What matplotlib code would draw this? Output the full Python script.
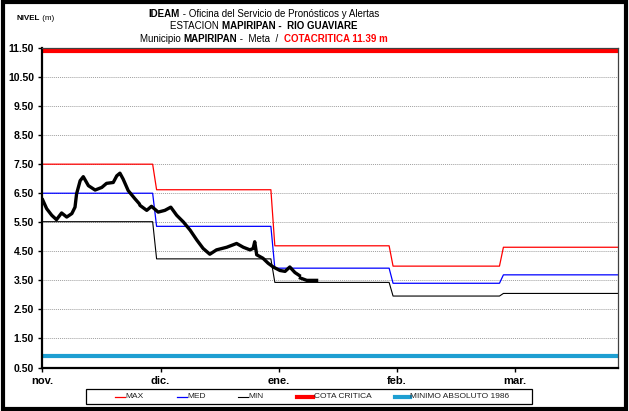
import numpy as np
import matplotlib
matplotlib.use("Agg")
import matplotlib.pyplot as plt
from matplotlib.patches import Rectangle
from matplotlib.lines import Line2D

plt.rcParams['font.family'] = ['Liberation Sans Narrow', 'Liberation Sans', 'DejaVu Sans']

# monthly reference levels (nov, dic, ene, feb, mar)
month_len = [29, 30, 30, 28, 30]
max_levels = [7.50, 6.62, 4.69, 3.99, 4.64]
med_levels = [6.50, 5.36, 3.92, 3.40, 3.69]
min_levels = [5.52, 4.24, 3.43, 2.96, 3.05]
cota_critica = 11.39
minimo_abs = 0.90

month_ticks = [0, 30, 60, 90, 120]
month_labels = ["nov.", "dic.", "ene.", "feb.", "mar."]

# observed level (day index, metres)
obs_day = [0.1, 1.1, 2.4, 3.6, 4.9, 6.2, 7.5, 8.3, 8.7, 9.6, 10.4, 11.7, 13.4, 15.1,
           16.3, 18.0, 18.9, 19.7, 20.5, 21.8, 23.5, 24.6, 24.8, 26.5, 27.7, 29.4,
           31.1, 32.6, 34.1, 35.8, 37.5, 39.2, 40.8, 42.5, 44.2, 46.8, 49.3, 51.0,
           52.7, 53.5, 53.9, 54.4, 56.0, 57.3, 58.6, 60.3, 61.6, 62.8, 64.1, 65.2,
           65.3, 65.5, 67.1, 69.6]
obs_level = [6.27, 5.97, 5.74, 5.59, 5.82, 5.68, 5.80, 6.02, 6.48, 6.93, 7.07, 6.76,
             6.61, 6.70, 6.84, 6.87, 7.10, 7.19, 6.99, 6.59, 6.31, 6.14, 6.08, 5.91,
             6.05, 5.85, 5.91, 6.02, 5.74, 5.51, 5.23, 4.89, 4.60, 4.40, 4.55, 4.64,
             4.77, 4.64, 4.55, 4.60, 4.83, 4.38, 4.26, 4.09, 3.96, 3.84, 3.81, 3.96,
             3.77, 3.67, np.nan, 3.58, 3.50, 3.50]

days = np.arange(sum(month_len))
max_series = np.repeat(max_levels, month_len)
med_series = np.repeat(med_levels, month_len)
min_series = np.repeat(min_levels, month_len)

W, H = 629, 411
fig = plt.figure(figsize=(W / 100, H / 100), dpi=100)
ax = fig.add_axes([42.3 / W, 1 - 367.5 / H, 575.4 / W, 319.5 / H])

ax.plot(days, max_series, color="#ff0000", lw=0.9)
ax.plot(days, med_series, color="#0000ff", lw=0.9)
ax.plot(days, min_series, color="black", lw=0.8)
ax.axhline(cota_critica, color="#ff0000", lw=3)
ax.axhline(minimo_abs, color="#1e9fd2", lw=3)
ax.plot(obs_day, obs_level, color="black", lw=2.4, solid_joinstyle="round")

ax.set_xlim(0, days[-1])
ax.set_ylim(0.5, 11.5)
yt = np.arange(0.5, 11.6, 1.0)
ax.set_yticks(yt)
ax.set_yticklabels([f"{v:.2f}" for v in yt], fontsize=7.5, fontweight="bold")
ax.set_xticks(month_ticks)
ax.set_xticklabels(month_labels, fontsize=8, fontweight="bold")
ax.tick_params(axis="both", direction="out", length=3, width=1, pad=3)
ax.yaxis.grid(True, color="#a0a0a0", ls=(0, (1, 1)), lw=0.7)
ax.set_axisbelow(True)
for side in ["left", "bottom"]:
    ax.spines[side].set_linewidth(1.6)
for side in ["top", "right"]:
    ax.spines[side].set_linewidth(0.9)
    ax.spines[side].set_color("#404040")

# legend row laid out in pixel positions along the bottom strip
legend_items = [("MAX", "#ff0000", 0.9, 115, 125),
                ("MED", "#0000ff", 0.9, 177, 187),
                ("MIN", "black", 0.8, 238, 248),
                ("COTA CRITICA", "#ff0000", 3, 297, 313),
                ("MINIMO ABSOLUTO 1986", "#1e9fd2", 3, 395, 410)]
fig.add_artist(Rectangle((86 / W, 1 - 404 / H), 446 / W, 15 / H, transform=fig.transFigure,
                         fill=False, edgecolor="black", lw=0.9))
ly = 1 - 396.5 / H
for name, col, lw, x0, x1 in legend_items:
    fig.add_artist(Line2D([x0 / W, x1 / W], [ly, ly], color=col, lw=lw,
                          transform=fig.transFigure))
    fig.text((x1 + 0.5) / W, ly, name, fontsize=6, color="#202020", va="center", ha="left")

fig.add_artist(Rectangle((0.004, 0.004), 0.992, 0.992, transform=fig.transFigure,
                         fill=False, edgecolor="black", lw=3))

renderer = fig.canvas.get_renderer()


def centered_line(parts, xc, y, size=7):
    # draw text pieces with mixed styles side by side, centred on xc (pixels)
    texts = []
    for s, weight, color in parts:
        t = fig.text(0, 1 - y / H, s, fontsize=size, fontweight=weight,
                     color=color, va="center", ha="left")
        texts.append(t)
    widths = [t.get_window_extent(renderer).width for t in texts]
    x = xc - sum(widths) / 2
    for t, w in zip(texts, widths):
        t.set_x(x / W)
        x += w


centered_line([("IDEAM", "bold", "black"),
               (" - Oficina del Servicio de Pronósticos y Alertas", "normal", "black")], 264, 14)
centered_line([("ESTACION ", "normal", "black"),
               ("MAPIRIPAN -  RIO GUAVIARE", "bold", "black")], 264, 26)
centered_line([("Municipio ", "normal", "black"),
               ("MAPIRIPAN", "bold", "black"),
               (" -  Meta  /  ", "normal", "black"),
               ("COTACRITICA 11.39 m", "bold", "#ff0000")], 264, 38.5)
centered_line([("NIVEL", "bold", "black"), (" (m)", "normal", "black")], 35, 19, size=5.8)

fig.savefig("out.png", dpi=100)
